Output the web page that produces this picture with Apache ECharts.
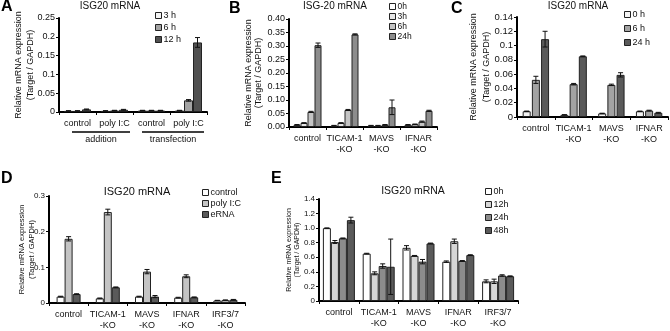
<!DOCTYPE html>
<html>
<head>
<meta charset="utf-8">
<script src="https://cdn.jsdelivr.net/npm/echarts@6/dist/echarts.min.js"></script>
<style>
  html, body { margin: 0; padding: 0; background: #fff; }
  #chart { width: 670px; height: 331px; }
</style>
</head>
<body>
<div id="chart"></div>
<script>
// panel A
var catsA = ['control', 'poly I:C', 'control', 'poly I:C'];
var namesA = ['3 h', '6 h', '12 h'];
var valsA = [
  [0.003, 0.003, 0.004, 0.004],
  [0.003, 0.004, 0.004, 0.031],
  [0.007, 0.006, 0.004, 0.185]
];
var errsA = [
  [0.0005, 0.0005, 0.0005, 0.0005],
  [0.0005, 0.0005, 0.0005, 0.002],
  [0.001, 0.001, 0.0005, 0.013]
];
// panel B
var catsB = ['control', 'TICAM-1\n-KO', 'MAVS\n-KO', 'IFNAR\n-KO'];
var namesB = ['0h', '3h', '6h', '24h'];
var valsB = [
  [0.008, 0.005, 0.005, 0.008],
  [0.015, 0.015, 0.005, 0.010],
  [0.056, 0.063, 0.008, 0.020],
  [0.303, 0.343, 0.073, 0.060]
];
var errsB = [
  [0.001, 0.001, 0.001, 0.001],
  [0.001, 0.001, 0.001, 0.001],
  [0.002, 0.002, 0.001, 0.002],
  [0.008, 0.002, 0.027, 0.002]
];
// panel C
var catsC = ['control', 'TICAM-1\n-KO', 'MAVS\n-KO', 'IFNAR\n-KO'];
var namesC = ['0 h', '6 h', '24 h'];
var valsC = [
  [0.008, 0.003, 0.005, 0.008],
  [0.052, 0.046, 0.045, 0.009],
  [0.109, 0.085, 0.059, 0.006]
];
var errsC = [
  [0.0003, 0.0003, 0.0003, 0.0003],
  [0.005, 0.001, 0.001, 0.0005],
  [0.011, 0.0005, 0.003, 0.0005]
];
// panel D
var catsD = ['control', 'TICAM-1\n-KO', 'MAVS\n-KO', 'IFNAR\n-KO', 'IRF3/7\n-KO'];
var namesD = ['control', 'poly I:C', 'eRNA'];
var valsD = [
  [0.018, 0.013, 0.018, 0.015, 0.007],
  [0.180, 0.255, 0.088, 0.075, 0.008],
  [0.025, 0.044, 0.018, 0.016, 0.009]
];
var errsD = [
  [0.001, 0.001, 0.001, 0.001, 0.0005],
  [0.006, 0.008, 0.006, 0.004, 0.0005],
  [0.001, 0.001, 0.003, 0.001, 0.001]
];
// panel E
var catsE = ['control', 'TICAM-1\n-KO', 'MAVS\n-KO', 'IFNAR\n-KO', 'IRF3/7\n-KO'];
var namesE = ['0h', '12h', '24h', '48h'];
var valsE = [
  [1.00, 0.65, 0.73, 0.54, 0.27],
  [0.81, 0.38, 0.62, 0.82, 0.27],
  [0.86, 0.48, 0.54, 0.55, 0.35],
  [1.11, 0.47, 0.79, 0.63, 0.34]
];
var errsE = [
  [0.003, 0.005, 0.03, 0.01, 0.02],
  [0.02, 0.02, 0.005, 0.03, 0.03],
  [0.005, 0.03, 0.03, 0.005, 0.01],
  [0.04, 0.38, 0.005, 0.005, 0.005]
];

var FONT = 'Liberation Sans';

var panels = [
  { cats: catsA, names: namesA, vals: valsA, errs: errsA, colors: ['#f4f4f4', '#a3a3a3', '#505050'],
    grid: { left: 59, top: 18, width: 148, height: 94 }, max: 0.25, interval: 0.05, bw: 9, gap: 0,
    fmt: null, fs: 9, cfs: 9, nameFs: 9, nameLh: 12, nameGap: 34,
    title: 'ISG20 mRNA', tx: 110, ty: 1, tfs: 10, letter: 'A', lx: 1, ly: -1,
    legend: { left: 155, top: 11, gap: 3, fs: 9 } },
  { cats: catsB, names: namesB, vals: valsB, errs: errsB, colors: ['#ffffff', '#e6e6e6', '#c4c4c4', '#8c8c8c'],
    grid: { left: 289, top: 19, width: 148, height: 108 }, max: 0.40, interval: 0.05, bw: 7, gap: 0,
    fmt: function (v) { return v.toFixed(2); }, fs: 9, cfs: 9, nameFs: 9, nameLh: 10, nameGap: 35,
    title: 'ISG-20 mRNA', tx: 335, ty: 1, tfs: 10, letter: 'B', lx: 229, ly: 1,
    legend: { left: 389, top: 2, gap: 1, fs: 8.5 } },
  { cats: catsC, names: namesC, vals: valsC, errs: errsC, colors: ['#f4f4f4', '#a3a3a3', '#5a5a5a'],
    grid: { left: 517, top: 17, width: 151, height: 100 }, max: 0.14, interval: 0.02, bw: 8, gap: 0.15,
    fmt: null, fs: 9.5, cfs: 9, nameFs: 9, nameLh: 13, nameGap: 37,
    title: 'ISG20 mRNA', tx: 578, ty: 1, tfs: 10, letter: 'C', lx: 451, ly: 1,
    legend: { left: 624, top: 10, gap: 5, fs: 9 } },
  { cats: catsD, names: namesD, vals: valsD, errs: errsD, colors: ['#ffffff', '#c4c4c4', '#5a5a5a'],
    grid: { left: 49, top: 196, width: 196, height: 110 }, max: 0.3, interval: 0.1, bw: 8, gap: 0,
    fmt: null, fs: 8, cfs: 9, nameFs: 7.5, nameLh: 10, nameGap: 22,
    title: 'ISG20 mRNA', tx: 137, ty: 186, tfs: 11, letter: 'D', lx: 1, ly: 171,
    legend: { left: 202, top: 188, gap: 2, fs: 9 } },
  { cats: catsE, names: namesE, vals: valsE, errs: errsE, colors: ['#ffffff', '#d6d6d6', '#8c8c8c', '#5a5a5a'],
    grid: { left: 319, top: 199, width: 199, height: 102 }, max: 1.4, interval: 0.2, bw: 8, gap: 0,
    fmt: function (v) { return v === 0 ? '0' : v.toFixed(1); }, fs: 8, cfs: 9, nameFs: 7, nameLh: 8, nameGap: 26,
    title: 'ISG20 mRNA', tx: 413, ty: 186, tfs: 10.5, letter: 'E', lx: 271, ly: 171,
    legend: { left: 485, top: 187, gap: 4, fs: 9 } }
];

var grids = [], xAxes = [], yAxes = [], series = [], titles = [], legends = [];

panels.forEach(function (p, gi) {
  grids.push(p.grid);
  xAxes.push({
    type: 'category', gridIndex: gi, data: p.cats,
    axisLine: { lineStyle: { color: '#000', width: 2 } },
    axisTick: { show: true, length: 3, lineStyle: { color: '#000' } },
    axisLabel: { color: '#111', fontFamily: FONT, fontSize: p.cfs, lineHeight: 11, margin: 6, interval: 0 }
  });
  yAxes.push({
    type: 'value', gridIndex: gi, min: 0, max: p.max, interval: p.interval,
    name: 'Relative mRNA expression\n(Target / GAPDH)', nameLocation: 'middle', nameGap: p.nameGap,
    nameMoveOverlap: false,
    nameTextStyle: { fontFamily: FONT, fontSize: p.nameFs, color: '#111', lineHeight: p.nameLh,
      align: 'center', verticalAlign: 'middle' },
    splitLine: { show: false },
    axisLine: { show: true, lineStyle: { color: '#000', width: 2 } },
    axisTick: { show: true, length: 3, lineStyle: { color: '#000' } },
    axisLabel: { color: '#111', fontFamily: FONT, fontSize: p.fs, margin: 4, formatter: p.fmt || undefined }
  });
  var n = p.names.length;
  var errData = [];
  p.names.forEach(function (nm, k) {
    series.push({
      type: 'bar', name: nm, xAxisIndex: gi, yAxisIndex: gi, data: p.vals[k],
      barWidth: p.bw, barGap: (p.gap * 100) + '%',
      itemStyle: { color: p.colors[k], borderColor: '#222', borderWidth: 1 }
    });
    p.vals[k].forEach(function (v, ci) {
      errData.push([ci, v, p.errs[k][ci], k]);
    });
  });
  (function (p, n) {
    series.push({
      type: 'custom', xAxisIndex: gi, yAxisIndex: gi, z: 5, silent: true,
      encode: { x: 0, y: 1 },
      data: errData,
      renderItem: function (params, api) {
        var ci = api.value(0), v = api.value(1), e = api.value(2), k = api.value(3);
        var step = p.bw * (1 + p.gap);
        var cx = api.coord([ci, 0])[0] + (k - (n - 1) / 2) * step;
        var top = api.coord([ci, v + e])[1];
        var bot = api.coord([ci, Math.max(0, v - e)])[1];
        var st = { stroke: '#111', lineWidth: 1 };
        return { type: 'group', children: [
          { type: 'line', shape: { x1: cx, y1: top, x2: cx, y2: bot }, style: st },
          { type: 'line', shape: { x1: cx - 2.5, y1: top, x2: cx + 2.5, y2: top }, style: st },
          { type: 'line', shape: { x1: cx - 2.5, y1: bot, x2: cx + 2.5, y2: bot }, style: st }
        ] };
      }
    });
  })(p, n);
  titles.push({
    text: p.title, left: p.tx, top: p.ty, textAlign: 'center', padding: 0,
    textStyle: { fontFamily: FONT, fontSize: p.tfs, fontWeight: 'normal', color: '#111' }
  });
  titles.push({
    text: p.letter, left: p.lx, top: p.ly, padding: 0,
    textStyle: { fontFamily: FONT, fontSize: 16, fontWeight: 'bold', color: '#000' }
  });
  legends.push({
    orient: 'vertical', left: p.legend.left, top: p.legend.top, itemGap: p.legend.gap, padding: 0,
    itemWidth: 6, itemHeight: 6, icon: 'rect', selectedMode: false,
    textStyle: { fontFamily: FONT, fontSize: p.legend.fs, color: '#111', padding: [0, 0, 0, -3] },
    data: p.names.map(function (nm, k) {
      return { name: nm, itemStyle: { color: p.colors[k], borderColor: '#222', borderWidth: 1 } };
    })
  });
});

// group labels under panel A
var grpStyle = { fill: '#111', font: '9px "Liberation Sans"', textAlign: 'center' };
var graphics = [
  { type: 'line', shape: { x1: 72, y1: 132, x2: 130, y2: 132 }, style: { stroke: '#000', lineWidth: 1.5 } },
  { type: 'line', shape: { x1: 142, y1: 132, x2: 204, y2: 132 }, style: { stroke: '#000', lineWidth: 1.5 } },
  { type: 'text', x: 101, y: 135, style: Object.assign({ text: 'addition' }, grpStyle) },
  { type: 'text', x: 173, y: 135, style: Object.assign({ text: 'transfection' }, grpStyle) }
];

var chart = echarts.init(document.getElementById('chart'));
chart.setOption({
  animation: false,
  backgroundColor: '#fff',
  title: titles,
  legend: legends,
  grid: grids,
  xAxis: xAxes,
  yAxis: yAxes,
  series: series,
  graphic: graphics
});
</script>
</body>
</html>
